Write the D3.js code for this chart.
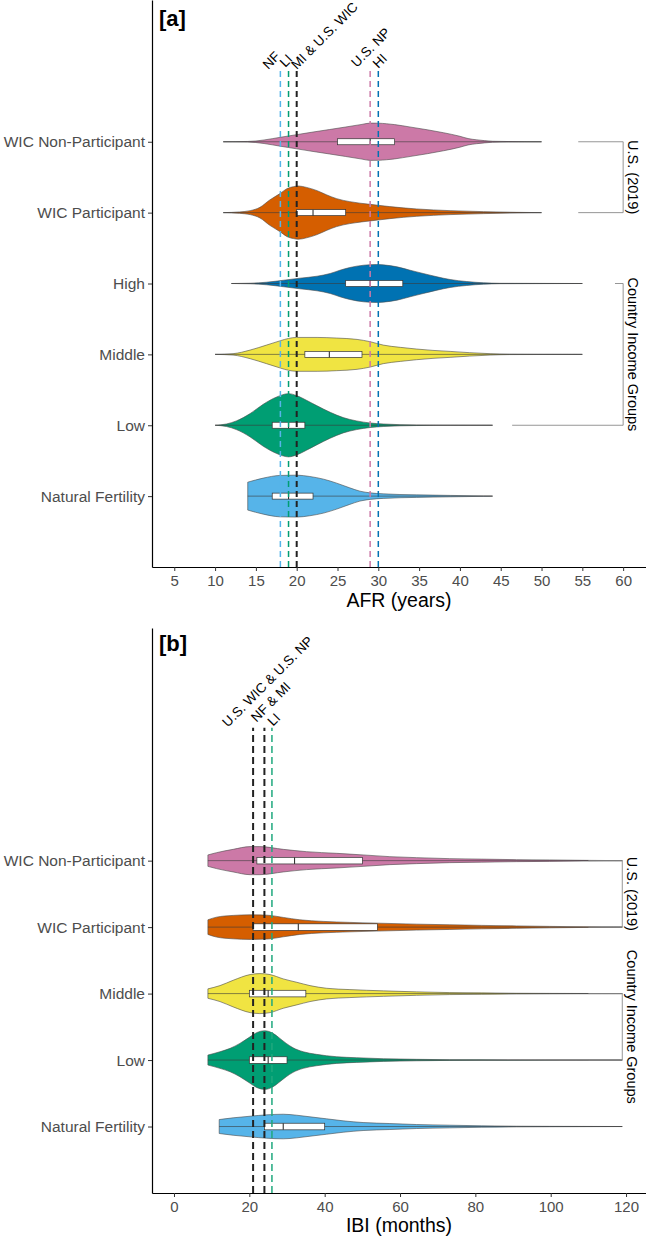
<!DOCTYPE html>
<html><head><meta charset="utf-8">
<script src="https://cdn.jsdelivr.net/npm/d3@7"></script>
<style>
body{margin:0;background:#fff}
svg{display:block}
text{font-family:"Liberation Sans",Arial,Helvetica,sans-serif}
</style>
</head><body>
<svg id="chart" width="646" height="1240"></svg>
<script>
// ---------------- Panel [a] : AFR (years) ----------------
const afrCategories = ["WIC Non-Participant","WIC Participant","High","Middle","Low","Natural Fertility"];
const afrFills = ["#CC79A7","#D55E00","#0072B2","#F0E442","#009E73","#56B4E9"];
// violin outlines: [value, half-width in category units]
const afrWicNonPart = [[11,0],[14,0.004],[15,0.011],[16,0.025],[18,0.063],[20,0.1],[22,0.137],[24,0.172],[26,0.208],[28,0.245],[29,0.263],[30,0.262],[31,0.254],[32,0.242],[34,0.206],[36,0.169],[38,0.127],[40,0.077],[41,0.045],[42,0.028],[43,0.016],[44,0.007],[46,0.003],[50,0]];
const afrWicPart = [[11,0],[13,0.01],[14.3,0.028],[15.5,0.075],[16.7,0.179],[18,0.272],[18.8,0.338],[19.6,0.366],[20.2,0.376],[21.2,0.356],[22.5,0.31],[23.7,0.249],[24.9,0.197],[26.5,0.155],[29,0.117],[31.4,0.085],[34.7,0.052],[38.8,0.028],[42.9,0.014],[47,0.004],[50,0]];
const afrHigh = [[12,0],[14.3,0.004],[16.3,0.018],[18.4,0.046],[20.4,0.075],[22.5,0.103],[24.1,0.141],[25.3,0.187],[26.5,0.225],[28.2,0.258],[29.8,0.268],[30.6,0.263],[32.3,0.235],[33.9,0.187],[35.5,0.141],[37.2,0.094],[38.8,0.056],[40.8,0.028],[42.9,0.01],[44.9,0.003],[55,0]];
const afrMiddle = [[10,0],[12.2,0.01],[14.3,0.061],[16.3,0.131],[18,0.193],[19,0.225],[20,0.239],[22.5,0.239],[24.9,0.23],[27.4,0.211],[29,0.179],[30.6,0.131],[32.7,0.099],[34.7,0.075],[36.7,0.056],[38.8,0.042],[41.2,0.024],[43.7,0.01],[46.1,0.003],[55,0]];
const afrLow = [[10,0],[11.4,0.018],[12.6,0.061],[14.3,0.165],[15.9,0.296],[17.55,0.399],[19,0.446],[20,0.418],[21.2,0.352],[22.45,0.277],[24.1,0.183],[25.7,0.108],[27.35,0.061],[29,0.032],[30.6,0.018],[34.7,0.004],[38.8,0.001],[44,0]];
const afrNatural = [[14,0.197],[15.9,0.254],[17.95,0.292],[20,0.296],[21.6,0.277],[23.3,0.239],[24.9,0.183],[26.5,0.117],[27.75,0.07],[29,0.046],[30.6,0.032],[34.7,0.018],[38.8,0.01],[42.9,0.003],[44,0]];
const afrViolins = [afrWicNonPart, afrWicPart, afrHigh, afrMiddle, afrLow, afrNatural];
// [min, q1, median, q3, max]
const afrBoxes = [[11,25,29,32,50],[11,20,22,26,50],[12,26,29,33,55],[10,21,24,28,55],[10,17,19,21,44],[14,17,19,22,44]];
const afrTicks = [5,10,15,20,25,30,35,40,45,50,55,60];
const afrModes = [18,19,20,29,30];
const afrModeLabels = ["NF","LI","MI & U.S. WIC","U.S. NP","HI"];
const afrModeColors = ["#56B4E9","#009E73","#222222","#CC79A7","#0072B2"];
const afrModeLabelX = [16.5,18.6,20,27.35,30];
const afrBrackets = [
  {label:"U.S. (2019)", rows:[0,1], from:[54.5,54.5], at:60},
  {label:"Country Income Groups", rows:[2,4], from:[59,46.4], at:60}
];

// ---------------- Panel [b] : IBI (months) ----------------
const ibiCategories = ["WIC Non-Participant","WIC Participant","Middle","Low","Natural Fertility"];
const ibiFills = ["#CC79A7","#D55E00","#F0E442","#009E73","#56B4E9"];
const ibiWicNonPart = [[9,0.086],[11.3,0.12],[15.7,0.17],[20.2,0.211],[22.8,0.211],[29,0.17],[35.2,0.135],[43.2,0.11],[50.2,0.086],[57.3,0.06],[64.4,0.045],[73.2,0.03],[81.7,0.023],[90.9,0.015],[99.7,0.011],[108.6,0.005],[119,0]];
const ibiWicPart = [[9,0.11],[11.3,0.15],[15.7,0.176],[20.2,0.185],[24.6,0.18],[29,0.146],[33.4,0.11],[39.6,0.086],[46.7,0.071],[53.7,0.06],[64.4,0.045],[73.2,0.035],[81.7,0.026],[90.9,0.018],[99.7,0.011],[108.6,0.005],[119,0]];
const ibiMiddle = [[9,0.071],[12.2,0.12],[15.7,0.2],[20.2,0.286],[22.8,0.301],[25.5,0.286],[29,0.221],[32.6,0.17],[36.1,0.12],[40.5,0.08],[46.7,0.06],[55.6,0.041],[64.4,0.026],[73.2,0.015],[81.7,0.011],[90.9,0.005],[99.7,0.003],[119,0]];
const ibiLow = [[9,0.075],[12.2,0.125],[14.9,0.176],[17.5,0.251],[20.2,0.35],[21.9,0.411],[24.1,0.441],[26.3,0.402],[28.1,0.326],[29.8,0.251],[31.6,0.185],[34.3,0.125],[37.8,0.086],[43.2,0.05],[48.5,0.035],[55.6,0.02],[64.4,0.011],[73.2,0.005],[119,0]];
const ibiNatural = [[12,0.105],[15.7,0.131],[20.2,0.155],[24.6,0.176],[29,0.185],[32.6,0.17],[36.1,0.146],[40.5,0.116],[44.9,0.086],[50.2,0.06],[57.3,0.045],[64.4,0.03],[73.2,0.02],[81.7,0.011],[90.9,0.005],[99.7,0.003],[119,0]];
const ibiViolins = [ibiWicNonPart, ibiWicPart, ibiMiddle, ibiLow, ibiNatural];
const ibiBoxes = [[9,22,32,50,119],[9,21,33,54,119],[9,20,25,35,119],[9,20,25,30,119],[12,24,29,40,119]];
const ibiTicks = [0,20,40,60,80,100,120];
const ibiModes = [21,24,26];
const ibiModeLabels = ["U.S. WIC & U.S. NP","NF & MI","LI"];
const ibiModeColors = ["#222222","#222222","#1FA97E"];
const ibiModeLabelX = [14.3,21.9,26.3];
const ibiBrackets = [
  {label:"U.S. (2019)", rows:[0,1], from:[110,110], at:119},
  {label:"Country Income Groups", rows:[2,3], from:[110,110], at:119}
];

// ---------------- drawing ----------------
const svg = d3.select("#chart");

function drawPanel(cfg){
  const g = svg.append("g");
  const x = d3.scaleLinear().domain(cfg.xDomain).range([152, 646]);
  const y = d3.scaleLinear().domain([0, cfg.yTop]).range([cfg.axisY, cfg.panelTop]);
  const n = cfg.cats.length;
  const pos = i => n - i;            // first category at top
  const unit = y(0) - y(1);          // px per category unit

  // violins
  cfg.violins.forEach((v,i)=>{
    const cy = y(pos(i));
    const area = d3.area()
      .x(d=>x(d[0]))
      .y0(d=>cy - d[1]*unit)
      .y1(d=>cy + d[1]*unit)
      .curve(d3.curveMonotoneX);
    g.append("path").attr("d", area(v))
      .attr("fill", cfg.fills[i]).attr("stroke","#4a4a4a").attr("stroke-width",0.6);
  });
  // whiskers + boxes
  cfg.boxes.forEach((b,i)=>{
    const cy = y(pos(i));
    g.append("line").attr("x1",x(b[0])).attr("x2",x(b[4])).attr("y1",cy).attr("y2",cy)
      .attr("stroke","#3a3a3a").attr("stroke-width",0.6);
    g.append("rect").attr("x",x(b[1])).attr("width",x(b[3])-x(b[1]))
      .attr("y",cy-cfg.boxH/2).attr("height",cfg.boxH)
      .attr("fill","#fff").attr("stroke","#333").attr("stroke-width",0.7);
    g.append("line").attr("x1",x(b[2])).attr("x2",x(b[2])).attr("y1",cy-cfg.boxH/2).attr("y2",cy+cfg.boxH/2)
      .attr("stroke","#333").attr("stroke-width",1.1);
  });
  // brackets
  cfg.brackets.forEach(br=>{
    const y1 = y(pos(br.rows[0])), y2 = y(pos(br.rows[1]));
    const xa = x(br.at);
    g.append("path")
      .attr("d",`M${x(br.from[0])},${y1}H${xa}V${y2}H${x(br.from[1])}`)
      .attr("fill","none").attr("stroke","#8a8a8a").attr("stroke-width",0.9);
    g.append("text").attr("transform",`translate(${xa+9.5},${(y1+y2)/2}) rotate(90)`)
      .attr("text-anchor","middle").attr("dominant-baseline","central")
      .attr("font-size",14.5).attr("fill","#000").text(br.label);
  });
  // mode lines
  cfg.modes.forEach((m,i)=>{
    const black = cfg.modeColors[i]==="#222222";
    g.append("line").attr("x1",x(m)).attr("x2",x(m)).attr("y1",y(0)).attr("y2",y(7))
      .attr("stroke",cfg.modeColors[i]).attr("stroke-width",black?2:1.5)
      .attr("stroke-dasharray",cfg.dash);
    g.append("text")
      .attr("transform",`translate(${x(cfg.modeLabelX[i])},${y(7)-cfg.labelOffsets[i]}) rotate(-45)`)
      .attr("font-size",13.5).attr("fill","#000").text(cfg.modeLabels[i]);
  });
  // axes
  const xAxis = g.append("g").attr("transform",`translate(0,${cfg.axisY})`)
    .call(d3.axisBottom(x).tickValues(cfg.ticks).tickSize(4).tickSizeOuter(0).tickPadding(4).tickFormat(d3.format("d")));
  xAxis.select(".domain").attr("stroke","#000").attr("stroke-width",1.2);
  xAxis.selectAll(".tick line").attr("stroke","#333");
  xAxis.selectAll(".tick text").attr("fill","#4D4D4D").attr("font-size",15).attr("font-family",null);
  const yAxis = g.append("g").attr("transform","translate(152,0)")
    .call(d3.axisLeft(y).tickValues(cfg.cats.map((c,i)=>pos(i))).tickFormat(p=>cfg.cats[n-p])
      .tickSize(4).tickSizeOuter(0).tickPadding(3));
  yAxis.select(".domain").attr("stroke","#000").attr("stroke-width",1.2);
  yAxis.selectAll(".tick line").attr("stroke","#333");
  yAxis.selectAll(".tick text").attr("fill","#4D4D4D").attr("font-size",15.5).attr("font-family",null);
  // titles
  g.append("text").attr("x",399).attr("y",cfg.titleY).attr("text-anchor","middle")
    .attr("font-size",19.5).attr("fill","#000").text(cfg.title);
  g.append("text").attr("x",159).attr("y",cfg.tagY).attr("font-size",22).attr("font-weight","bold")
    .attr("fill","#000").text(cfg.tag);
}

drawPanel({
  cats: afrCategories, fills: afrFills, violins: afrViolins, boxes: afrBoxes,
  ticks: afrTicks, modes: afrModes, modeLabels: afrModeLabels, modeColors: afrModeColors,
  modeLabelX: afrModeLabelX, labelOffsets:[1,3,1,3,2], brackets: afrBrackets,
  xDomain:[2.27, 62.8], yTop:8, axisY:567, panelTop:0, boxH:6, dash:"6,4",
  title:"AFR (years)", titleY:607, tag:"[a]", tagY:26
});
drawPanel({
  cats: ibiCategories, fills: ibiFills, violins: ibiViolins, boxes: ibiBoxes,
  ticks: ibiTicks, modes: ibiModes, modeLabels: ibiModeLabels, modeColors: ibiModeColors,
  modeLabelX: ibiModeLabelX, labelOffsets:[0,5,1], brackets: ibiBrackets,
  xDomain:[-5.84, 125.3], yTop:8.5, axisY:1193, panelTop:628, boxH:6.6, dash:"7,4",
  title:"IBI (months)", titleY:1232, tag:"[b]", tagY:651
});
</script>
</body></html>
